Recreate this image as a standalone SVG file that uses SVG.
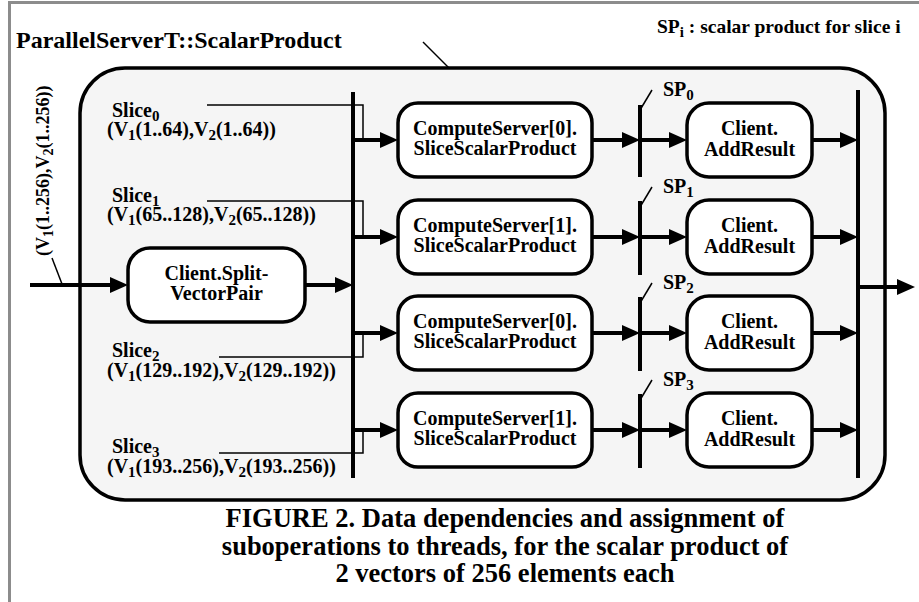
<svg xmlns="http://www.w3.org/2000/svg" width="919" height="602" viewBox="0 0 919 602">
<style>
text{font-family:"Liberation Serif","Times New Roman",serif;font-weight:bold;fill:#000}
.t20{font-size:20px}
.lbl{font-size:20px}
.c{text-anchor:middle}
.sub{font-size:15px}
.box{fill:#fff;stroke:#000;stroke-width:3.5}
.bar{stroke:#000;stroke-width:4;fill:none}
.arr{stroke:#000;stroke-width:4;fill:none;marker-end:url(#ah)}
.thin{stroke:#000;stroke-width:1.5;fill:none}
</style>
<defs>
<marker id="ah" markerUnits="userSpaceOnUse" viewBox="0 0 18 16" refX="10" refY="8" markerWidth="18" markerHeight="16" orient="auto">
<path d="M0,0 L18,8 L0,16 z" fill="#000"/>
</marker>
</defs>
<rect width="919" height="602" fill="#fff"/>
<g id="frame">
<line x1="8" y1="2.5" x2="919" y2="2.5" stroke="#8c8c8c" stroke-width="3"/>
<line x1="9.5" y1="1" x2="9.5" y2="602" stroke="#8c8c8c" stroke-width="3"/>
</g>
<g id="container">
<rect x="80" y="68" width="805" height="432" rx="45" ry="45" fill="#f5f5f5" stroke="#000" stroke-width="3.5"/>
<text x="16" y="48" style="font-size:24px">ParallelServerT::ScalarProduct</text>
</g>
<text x="657" y="33" style="font-size:19.5px">SP<tspan dy="4" style="font-size:15px">i</tspan><tspan dy="-4"> : scalar product for slice i</tspan></text>

<g id="connectors">
<line class="thin" x1="423" y1="42" x2="449" y2="68"/>
<line class="thin" x1="52" y1="258" x2="62" y2="284"/>
<path class="thin" d="M207,105 H363 V140"/>
<path class="thin" d="M207,201 H363 V237"/>
<path class="thin" d="M219,357 H363 V333"/>
<path class="thin" d="M219,453 H363 V430"/>
<line class="bar" x1="353" y1="92" x2="353" y2="478"/>
<line class="bar" x1="858" y1="90" x2="858" y2="478"/>
<line class="arr" x1="30" y1="285" x2="120" y2="285"/>
<line class="arr" x1="305" y1="285" x2="345" y2="285"/>
<line class="arr" x1="858" y1="287" x2="907" y2="287"/>
<line class="arr" x1="353" y1="140" x2="390" y2="140"/>
<line class="arr" x1="592" y1="140" x2="632" y2="140"/>
<line class="bar" x1="640" y1="105" x2="640" y2="177"/>
<line class="thin" x1="640" y1="110" x2="652" y2="90"/>
<line class="arr" x1="640" y1="140" x2="679" y2="140"/>
<line class="arr" x1="812" y1="140" x2="850" y2="140"/>
<line class="arr" x1="353" y1="237" x2="390" y2="237"/>
<line class="arr" x1="592" y1="237" x2="632" y2="237"/>
<line class="bar" x1="640" y1="201" x2="640" y2="275"/>
<line class="thin" x1="640" y1="207" x2="652" y2="187"/>
<line class="arr" x1="640" y1="237" x2="679" y2="237"/>
<line class="arr" x1="812" y1="237" x2="850" y2="237"/>
<line class="arr" x1="353" y1="333" x2="390" y2="333"/>
<line class="arr" x1="592" y1="333" x2="632" y2="333"/>
<line class="bar" x1="640" y1="297" x2="640" y2="371"/>
<line class="thin" x1="640" y1="303" x2="652" y2="283"/>
<line class="arr" x1="640" y1="333" x2="679" y2="333"/>
<line class="arr" x1="812" y1="333" x2="850" y2="333"/>
<line class="arr" x1="353" y1="430" x2="390" y2="430"/>
<line class="arr" x1="592" y1="430" x2="632" y2="430"/>
<line class="bar" x1="640" y1="394" x2="640" y2="468"/>
<line class="thin" x1="640" y1="400" x2="652" y2="380"/>
<line class="arr" x1="640" y1="430" x2="679" y2="430"/>
<line class="arr" x1="812" y1="430" x2="850" y2="430"/>
</g>

<g id="input-label">
<text transform="translate(49,256) rotate(-90)" style="font-size:18px">(V<tspan dy="4" style="font-size:14px">1</tspan><tspan dy="-4">(1..256),V</tspan><tspan dy="4" style="font-size:14px">2</tspan><tspan dy="-4">(1..256))</tspan></text>
</g>

<g id="slice-labels">
<text class="lbl" x="112" y="117">Slice<tspan class="sub" dy="4">0</tspan></text>
<text class="lbl" x="107" y="136">(V<tspan class="sub" dy="4">1</tspan><tspan dy="-4">(1..64),V</tspan><tspan class="sub" dy="4">2</tspan><tspan dy="-4">(1..64))</tspan></text>
<text class="lbl" x="112" y="202">Slice<tspan class="sub" dy="4">1</tspan></text>
<text class="lbl" x="107" y="221">(V<tspan class="sub" dy="4">1</tspan><tspan dy="-4">(65..128),V</tspan><tspan class="sub" dy="4">2</tspan><tspan dy="-4">(65..128))</tspan></text>
<text class="lbl" x="112" y="357">Slice<tspan class="sub" dy="4">2</tspan></text>
<text class="lbl" x="107" y="377">(V<tspan class="sub" dy="4">1</tspan><tspan dy="-4">(129..192),V</tspan><tspan class="sub" dy="4">2</tspan><tspan dy="-4">(129..192))</tspan></text>
<text class="lbl" x="112" y="453">Slice<tspan class="sub" dy="4">3</tspan></text>
<text class="lbl" x="107" y="473">(V<tspan class="sub" dy="4">1</tspan><tspan dy="-4">(193..256),V</tspan><tspan class="sub" dy="4">2</tspan><tspan dy="-4">(193..256))</tspan></text>
</g>

<g id="sp-labels">
<text class="lbl" x="663" y="96">SP<tspan class="sub" dy="4">0</tspan></text>
<text class="lbl" x="663" y="193">SP<tspan class="sub" dy="4">1</tspan></text>
<text class="lbl" x="663" y="289">SP<tspan class="sub" dy="4">2</tspan></text>
<text class="lbl" x="663" y="386">SP<tspan class="sub" dy="4">3</tspan></text>
</g>

<g id="split">
<rect class="box" x="128" y="248" width="177" height="74" rx="22"/>
<text class="t20 c" x="216.5" y="280">Client.Split-</text>
<text class="t20 c" x="216.5" y="300">VectorPair</text>
</g>

<g id="compute0">
<rect class="box" x="398" y="103" width="194" height="74" rx="20"/>
<text class="t20 c" x="495" y="135">ComputeServer[0].</text>
<text class="t20 c" x="495" y="155">SliceScalarProduct</text>
</g>
<g id="compute1">
<rect class="box" x="398" y="200" width="194" height="74" rx="20"/>
<text class="t20 c" x="495" y="232">ComputeServer[1].</text>
<text class="t20 c" x="495" y="252">SliceScalarProduct</text>
</g>
<g id="compute2">
<rect class="box" x="398" y="296" width="194" height="74" rx="20"/>
<text class="t20 c" x="495" y="328">ComputeServer[0].</text>
<text class="t20 c" x="495" y="348">SliceScalarProduct</text>
</g>
<g id="compute3">
<rect class="box" x="398" y="393" width="194" height="74" rx="20"/>
<text class="t20 c" x="495" y="425">ComputeServer[1].</text>
<text class="t20 c" x="495" y="445">SliceScalarProduct</text>
</g>

<g id="add0">
<rect class="box" x="687" y="103" width="125" height="74" rx="22"/>
<text class="t20 c" x="749.5" y="135">Client.</text>
<text class="t20 c" x="749.5" y="156">AddResult</text>
</g>
<g id="add1">
<rect class="box" x="687" y="200" width="125" height="74" rx="22"/>
<text class="t20 c" x="749.5" y="232">Client.</text>
<text class="t20 c" x="749.5" y="253">AddResult</text>
</g>
<g id="add2">
<rect class="box" x="687" y="296" width="125" height="74" rx="22"/>
<text class="t20 c" x="749.5" y="328">Client.</text>
<text class="t20 c" x="749.5" y="349">AddResult</text>
</g>
<g id="add3">
<rect class="box" x="687" y="393" width="125" height="74" rx="22"/>
<text class="t20 c" x="749.5" y="425">Client.</text>
<text class="t20 c" x="749.5" y="446">AddResult</text>
</g>

<g id="caption">
<text class="c" x="505" y="527" style="font-size:26.5px">FIGURE 2. Data dependencies and assignment of</text>
<text class="c" x="505" y="555" style="font-size:26.5px">suboperations to threads, for the scalar product of</text>
<text class="c" x="505" y="582" style="font-size:26.5px">2 vectors of 256 elements each</text>
</g>
</svg>
